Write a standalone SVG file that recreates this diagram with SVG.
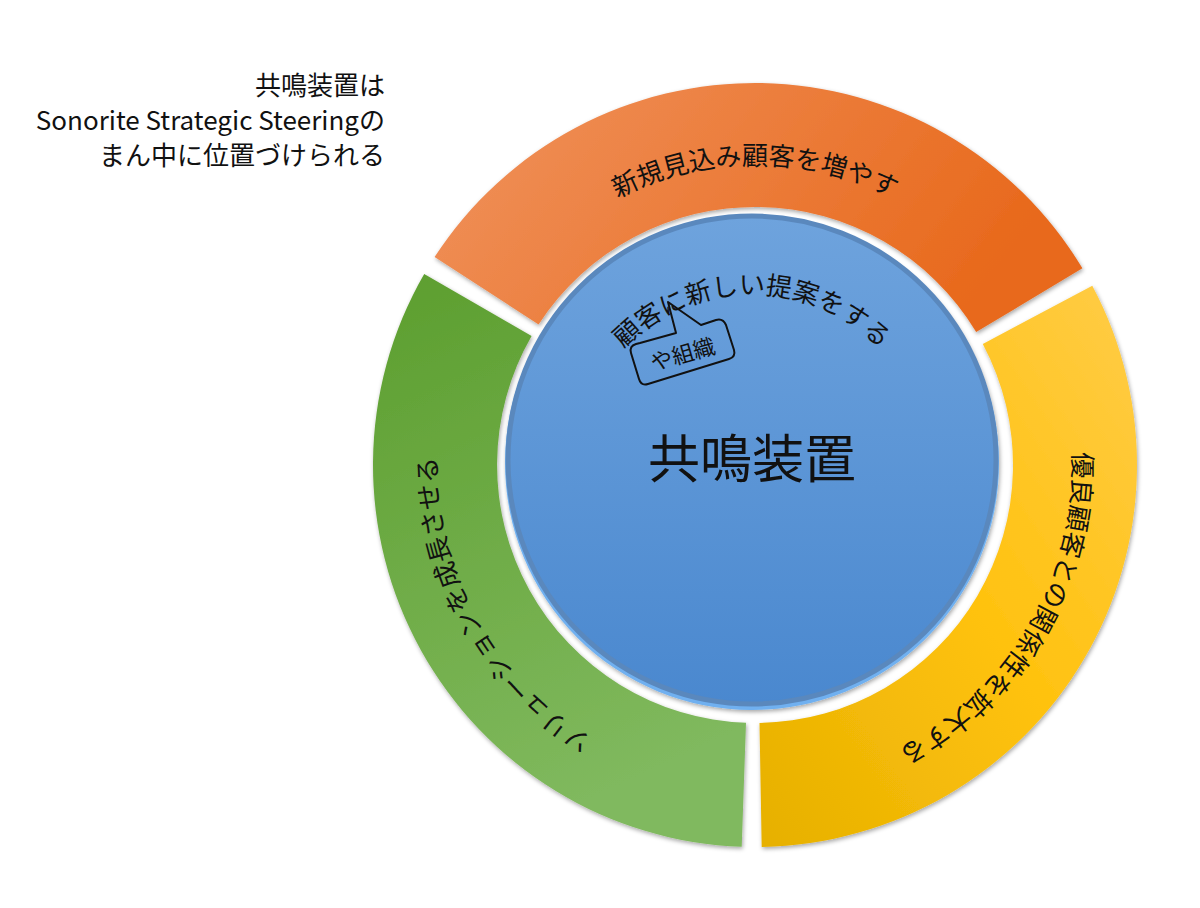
<svg xmlns="http://www.w3.org/2000/svg" width="1200" height="908" viewBox="0 0 1200 908">
<style>
text{font-family:"Noto Sans CJK JP","Liberation Sans",sans-serif;fill:#111}
.seg{font-size:26px}
</style>
<defs>
<linearGradient id="gO" x1="0" y1="0" x2="1" y2="0.3"><stop offset="0" stop-color="#f0935e"/><stop offset="1" stop-color="#e8691c"/></linearGradient>
<linearGradient id="gY" x1="0" y1="1" x2="1" y2="0"><stop offset="0" stop-color="#e6b000"/><stop offset="0.5" stop-color="#ffc20e"/><stop offset="1" stop-color="#ffcc48"/></linearGradient>
<linearGradient id="gG" x1="0" y1="0" x2="0.3" y2="1"><stop offset="0" stop-color="#5c9e2e"/><stop offset="1" stop-color="#80b95e"/></linearGradient>
<linearGradient id="gB" x1="0" y1="0" x2="0" y2="1"><stop offset="0" stop-color="#6ea3dd"/><stop offset="1" stop-color="#4a88cf"/></linearGradient>
<filter id="sh" x="-10%" y="-10%" width="120%" height="120%"><feDropShadow dx="1" dy="2" stdDeviation="2" flood-opacity="0.35"/></filter>
<path id="pO" d="M495,315 A300,300 0 0 1 1015,315"/>
<path id="pY" d="M1035.8,315.7 A318,318 0 0 1 760.5,783"/>
<path id="pG" d="M743.9,782.8 A318,318 0 0 1 479.6,306"/>
<path id="pI" d="M598,383 A178,178 0 0 1 906,383"/>
</defs>
<g id="top-note" font-size="26">
<text x="385" y="95" text-anchor="end">共鳴装置は</text>
<text x="385" y="130" text-anchor="end">Sonorite Strategic Steeringの</text>
<text x="385" y="165" text-anchor="end">まん中に位置づけられる</text>
</g>
<g id="seg-orange">
<path d="M434.6,257 A382,382 0 0 1 1082.4,268.3 L976.2,332.1 A258,258 0 0 0 538.6,324.5 Z" fill="url(#gO)" filter="url(#sh)"/>
<text class="seg"><textPath href="#pO" startOffset="50%" text-anchor="middle">新規見込み顧客を増やす</textPath></text>
</g>
<g id="seg-yellow">
<path d="M1092.3,285.7 A382,382 0 0 1 761.7,846.9 L759.5,723 A258,258 0 0 0 982.8,343.9 Z" fill="url(#gY)" filter="url(#sh)"/>
<text class="seg"><textPath href="#pY" startOffset="50%" text-anchor="middle">優良顧客との関係性を拡大する</textPath></text>
</g>
<g id="seg-green">
<path d="M741.7,846.8 A382,382 0 0 1 424.2,274 L531.6,336 A258,258 0 0 0 746,722.8 Z" fill="url(#gG)" filter="url(#sh)"/>
<text class="seg"><textPath href="#pG" startOffset="50%" text-anchor="middle">ソリューションを成長させる</textPath></text>
</g>
<g id="center">
<circle cx="752" cy="463" r="247" fill="#6fb0f0" filter="url(#sh)"/>
<circle cx="752" cy="460" r="244" fill="url(#gB)" stroke="#5a88bd" stroke-width="5"/>
<text x="752" y="478" font-size="52" text-anchor="middle">共鳴装置</text>
<text font-size="26"><textPath href="#pI" startOffset="50%" text-anchor="middle">顧客に新しい提案をする</textPath></text>
</g>
<g id="callout">
<path d="M640,343 L676,333 L668,302 L701,325 L716,320 Q723,318 726,325 L734,350 Q736,357 729,359 L648,384 Q641,386 639,379 L631,353 Q629,346 636,344 Z" fill="none" stroke="#111" stroke-width="2" stroke-linejoin="round"/>
<text x="685" y="362" font-size="22" text-anchor="middle" transform="rotate(-16 685 362)">や組織</text>
</g>
</svg>
